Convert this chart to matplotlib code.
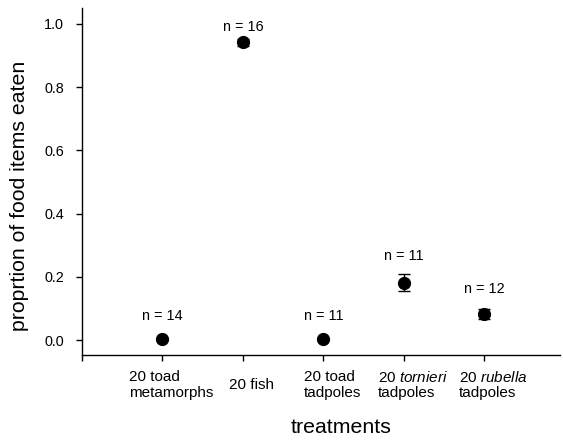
import matplotlib
matplotlib.use("Agg")
import matplotlib.pyplot as plt
import matplotlib.transforms as mtransforms

plt.rcParams['font.family'] = ['Liberation Sans', 'DejaVu Sans']
plt.rcParams['mathtext.fontset'] = 'custom'
plt.rcParams['mathtext.rm'] = 'Liberation Sans'
plt.rcParams['mathtext.it'] = 'Liberation Sans:italic'

categories = ["20 toad\nmetamorphs", "20 fish", "20 toad\ntadpoles",
              "20 $\\mathit{tornieri}$\ntadpoles", "20 $\\mathit{rubella}$\ntadpoles"]
means = [0.003, 0.941, 0.003, 0.182, 0.084]
errors = [0.004, 0.010, 0.004, 0.027, 0.016]
n_labels = ["n = 14", "n = 16", "n = 11", "n = 11", "n = 12"]
n_label_y = [0.075, 0.991, 0.075, 0.265, 0.163]
yticks = [0.0, 0.2, 0.4, 0.6, 0.8, 1.0]

fig = plt.figure(figsize=(5.63, 4.40), dpi=100)
ax = fig.add_axes([82/563, 1-355/440, 478/563, 347/440])

x = list(range(1, len(categories) + 1))
ax.errorbar(x, means, yerr=errors, fmt='o', color='black', ms=8.5,
            capsize=4.2, elinewidth=1.0, capthick=1.0, zorder=3)

for xi, lab, ly in zip(x, n_labels, n_label_y):
    ax.text(xi, ly, lab, ha='center', va='center', fontsize=10.4)

ax.set_xlim(0, 5.94)
ax.set_ylim(-0.047, 1.05)
ax.set_xticks([0] + x)
ax.set_xticklabels([])
ax.set_yticks(yticks)
ax.set_yticklabels([f"{v:.1f}" for v in yticks], fontsize=10.4)
ax.tick_params(axis='both', direction='out', length=4, width=1, color='black')
ax.tick_params(axis='y', pad=9)

offset = mtransforms.ScaledTranslation(9/100, 0, fig.dpi_scale_trans)
trans = mtransforms.blended_transform_factory(ax.transData, fig.transFigure) + offset
for xi, lab in zip(x, categories):
    ax.text(xi, 1-385/440, lab, transform=trans, ha='center', va='center',
            multialignment='left', fontsize=11, linespacing=1.1)

for s in ['top', 'right']:
    ax.spines[s].set_visible(False)
for s in ['left', 'bottom']:
    ax.spines[s].set_linewidth(1.0)

fig.text(341/563, 1-427/440, "treatments", ha='center', va='center', fontsize=15.3)
fig.text(20/563, 1-196/440, "proprtion of food items eaten", ha='center', va='center',
         rotation=90, fontsize=15.3)

fig.savefig("out.png", dpi=100)
